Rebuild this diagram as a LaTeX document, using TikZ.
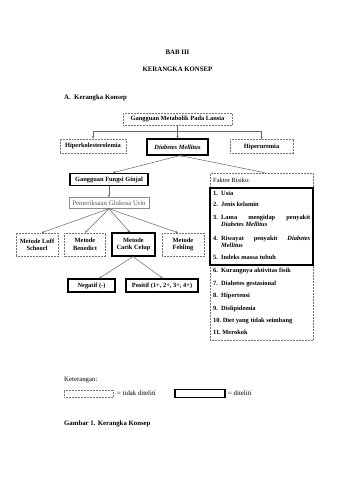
\documentclass[tikz,border=0pt]{standalone}
\usepackage{fontspec}
\setmainfont{Liberation Serif}
\usetikzlibrary{arrows.meta,calc}
\newcommand{\diafs}{\fontsize{6.4}{7.4}\selectfont}
\newcommand{\pagefs}{\fontsize{6.8}{8}\selectfont}
\begin{document}
\begin{tikzpicture}[x=1pt,y=-1pt,
  dotbox/.style={draw=black!55, densely dotted, line width=0.5pt, inner sep=0pt, align=center, font=\diafs\bfseries},
  thickbox/.style={draw=black, line width=1.1pt, inner sep=0pt, align=center, font=\diafs\bfseries},
  thinbox/.style={draw=black!45, line width=0.4pt, inner sep=0pt, align=center, font=\pagefs, text=black!65},
  conn/.style={draw=black!60, line width=0.5pt},
  arr/.style={conn, -{Stealth[length=2.6pt,width=2.2pt]}},
  ptext/.style={anchor=base west, inner sep=0pt, font=\pagefs},
  item/.style={anchor=base west, inner sep=0pt, font=\diafs\bfseries},
  ]
\useasboundingbox[fill=white] (0,0) rectangle (339,480);

% headings
\node[inner sep=0pt, anchor=base, font=\pagefs\bfseries] (bab) at (177.5,54.8) {BAB III};
\node[inner sep=0pt, anchor=base, font=\pagefs\bfseries] (judul) at (177.5,71.8) {KERANGKA KONSEP};
\node[ptext, font=\pagefs\bfseries] (suba) at (64,99.3) {A.\ \ Kerangka Konsep};

% top level
\node[dotbox, minimum width=109pt, minimum height=12pt] (meta) at (177.5,119) {Gangguan Metabolik Pada Lansia};
\node[dotbox, minimum width=66pt, minimum height=14pt] (hk) at (93,146) {Hiperkolesterolemia};
\node[thickbox, minimum width=61pt, minimum height=16pt] (dm) at (177.5,147) {\itshape Diabetes Mellitus};
\node[dotbox, minimum width=63pt, minimum height=14pt] (hu) at (261.5,146.5) {Hiperuremia};

\coordinate (jl) at (93,131.5);
\coordinate (jm) at (177.5,131.5);
\coordinate (jr) at (261.5,131.5);
\draw[conn] (meta.south) -- (jm);
\draw[conn] (jl) -- (jr);
\draw[arr] (jl) -- (hk.north);
\draw[arr] (jm) -- (dm.north);
\draw[arr] (jr) -- (hu.north);

% left branch
\node[thickbox, minimum width=78pt, minimum height=12.5pt] (gfg) at (109,179.5) {Gangguan Fungsi Ginjal};
\node[thinbox, minimum width=80pt, minimum height=11pt] (pgu) at (109,203) {Pemeriksaan Glukosa Urin};

\node[dotbox, minimum width=42pt, minimum height=23pt] (luff) at (37,244.5) {Metode Luff\\Schoorl};
\node[dotbox, minimum width=41pt, minimum height=23pt] (ben) at (85,244.5) {Metode\\Benedict};
\node[thickbox, minimum width=43pt, minimum height=23pt] (carik) at (133.5,244.5) {Metode\\Carik Celup};
\node[dotbox, minimum width=42pt, minimum height=23pt] (feh) at (183,244.5) {Metode\\Fehling};

\node[thickbox, minimum width=47pt, minimum height=13pt] (neg) at (91.5,285.5) {Negatif (-)};
\node[thickbox, minimum width=72pt, minimum height=13pt] (pos) at (162,285.5) {Positif (1+, 2+, 3+, 4+)};

% faktor risiko
\node[draw=black!55, densely dotted, line width=0.5pt, inner sep=0pt, minimum width=103pt, minimum height=167pt] (fr) at (261.5,256.5) {};
\node[draw=black, line width=1.1pt, inner sep=0pt, minimum width=103pt, minimum height=77pt] (frin) at (261.5,226.5) {};
\node[anchor=base west, inner sep=0pt, font=\diafs] (frh) at (213,182.6) {Faktor Risiko:};

\node[item] (n1) at (213,195.1) {1.};   \node[item] (t1) at (221,195.1) {Usia};
\node[item] (n2) at (213,206.6) {2.};   \node[item] (t2) at (221,206.6) {Jenis kelamin};
\node[item] (n3) at (213,219.1) {3.};   \node[item] (t3a) at (221,219.1) {\makebox[89pt][s]{Lama mengidap penyakit}};
\node[item] (t3b) at (221,226.6) {\itshape Diabetes Mellitus};
\node[item] (n4) at (213,240.1) {4.};   \node[item] (t4a) at (221,240.1) {\makebox[89pt][s]{Riwayat penyakit \itshape Diabetes}};
\node[item] (t4b) at (221,247.6) {\itshape Mellitus};
\node[item] (n5) at (213,259.1) {5.};   \node[item] (t5) at (221,259.1) {Indeks massa tubuh};
\node[item] (n6) at (213,272.1) {6.};   \node[item] (t6) at (221,272.1) {Kurangnya aktivitas fisik};
\node[item] (n7) at (213,285.1) {7.};   \node[item] (t7) at (221,285.1) {Diabetes gestasional};
\node[item] (n8) at (213,297.6) {8.};   \node[item] (t8) at (221,297.6) {Hipertensi};
\node[item] (n9) at (213,310.1) {9.};   \node[item] (t9) at (221,310.1) {Dislipidemia};
\node[item] (t10) at (213,322.1) {10.\ Diet yang tidak seimbang};
\node[item] (t11) at (213,334.1) {11.\ Merokok};

% connectors
\draw[arr] ([xshift=2.5pt]dm.south) -- ([xshift=4pt]gfg.north);
\draw[arr] ([xshift=3.5pt]fr.north) -- ([xshift=2.5pt]dm.south);
\draw[arr] (gfg.south) -- (pgu.north);
\draw[arr] (pgu.south) -- ([xshift=4.5pt]luff.north);
\draw[arr] (pgu.south) -- (ben.north);
\draw[arr] (pgu.south) -- ([xshift=-3.5pt]carik.north);
\draw[arr] (pgu.south) -- ([xshift=-5pt]feh.north);
\draw[arr] ([xshift=-0.5pt]carik.south) -- ([xshift=7.5pt]neg.north);
\draw[arr] ([xshift=-0.5pt]carik.south) -- ([xshift=1pt]pos.north);

% legend
\node[ptext] (ket) at (64,381.3) {Keterangan:};
\node[draw=black!55, densely dotted, line width=0.5pt, inner sep=0pt, minimum width=49pt, minimum height=7.5pt] (lg1) at (88.5,393.5) {};
\node[ptext] (lg1t) at (117,395.8) {= tidak diteliti};
\node[draw=black, line width=1.1pt, inner sep=0pt, minimum width=50pt, minimum height=7.5pt] (lg2) at (200,393.5) {};
\node[ptext] (lg2t) at (228,395.8) {= diteliti};
\node[ptext, font=\pagefs\bfseries] (cap) at (64,425.3) {Gambar 1. Kerangka Konsep};
\end{tikzpicture}
\end{document}
